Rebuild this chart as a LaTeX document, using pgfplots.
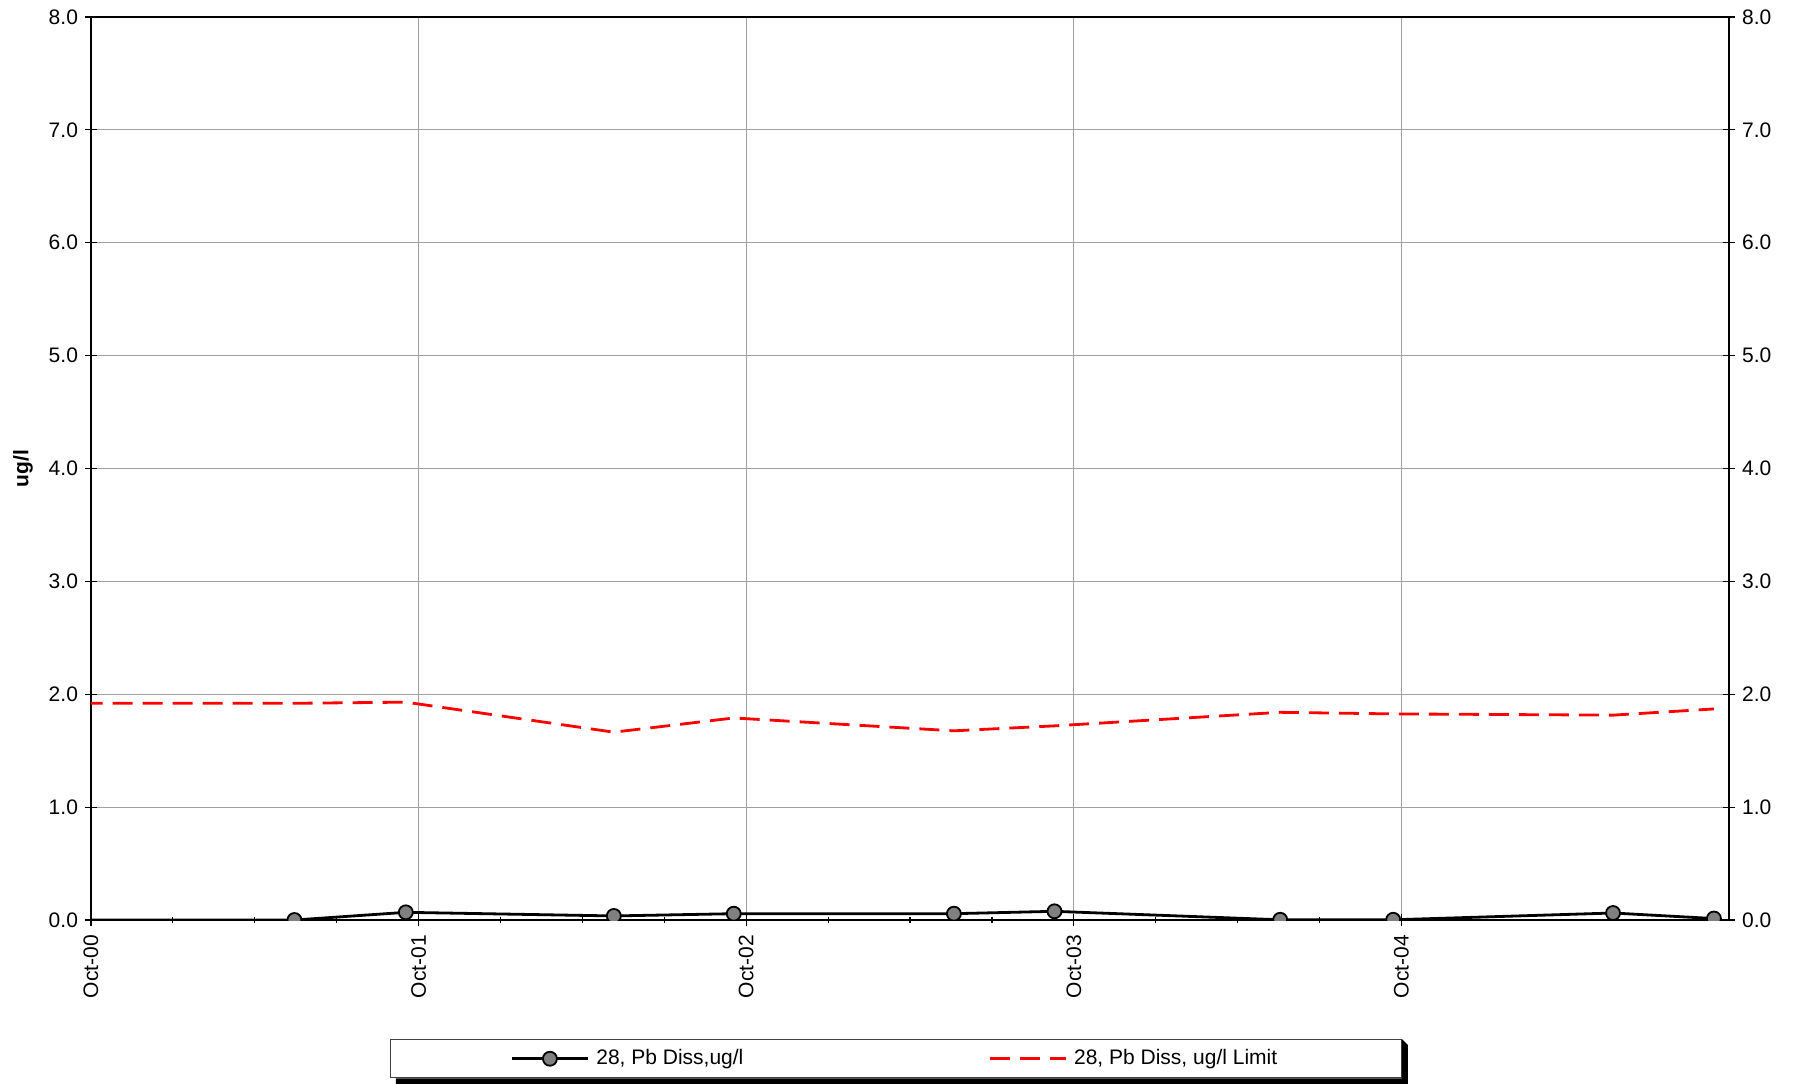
\documentclass[border=0pt]{standalone}
\usepackage{fontspec}
\setmainfont{Liberation Sans}
\usepackage{pgfplots}
\pgfplotsset{compat=1.18}
\definecolor{gridgray}{RGB}{160,160,160}
\definecolor{markgray}{RGB}{128,128,128}

% x = years since Oct-2000
\pgfplotstableread{
x y
-0.3 0
0.621 0
0.961 0.068
1.596 0.036
1.962 0.056
2.634 0.056
2.941 0.077
3.630 0.002
3.975 0.002
4.646 0.062
4.954 0.013
}\pbdata

\pgfplotstableread{
x y
-0.3 1.92
0.621 1.92
0.961 1.93
1.596 1.664
1.962 1.79
2.634 1.676
2.941 1.72
3.630 1.84
3.975 1.826
4.646 1.815
4.954 1.87
}\limitdata

\pgfplotsset{
  markleg/.style={legend image code/.code={\draw[##1,mark repeat=2,mark phase=2] plot coordinates {(0pt,0pt) (19pt,0pt) (38pt,0pt)};}},
  lineleg/.style={legend image code/.code={\draw[##1] (0pt,0pt) -- (38pt,0pt);}},
  common/.style={
    scale only axis,
    width=819pt, height=451.5pt,
    at={(0pt,0pt)}, anchor=south west,
    xmin=0, xmax=5, ymin=0, ymax=8,
    ytick={0,1,...,8},
    xtick={0,1,2,3,4},
    xticklabels={Oct-00,Oct-01,Oct-02,Oct-03,Oct-04},
    minor x tick num=3,
    /pgf/number format/assume math mode=true,
    yticklabel={\pgfmathprintnumber[fixed,fixed zerofill,precision=1]{\tick}},
    tick label style={font=\fontsize{10.5}{12}\selectfont, text=black},
    tick align=center,
    major tick length=6pt,
    minor tick length=3pt,
    tick style={black, line width=0.6pt},
    axis line style={black, line width=0.7pt},
  }
}

\begin{document}
\begin{tikzpicture}
\begin{axis}[
  common,
  name=main,
  ytick pos=left,
  xtick pos=bottom,
  grid=major,
  major grid style={gridgray, line width=0.5pt},
  xticklabel style={rotate=90, anchor=east, xshift=-1pt},
  ylabel={\textbf{ug/l}},
  every axis y label/.style={at={(axis description cs:-0.0415,0.5)}, rotate=90, anchor=center, font=\fontsize{10.5}{12}\selectfont},
  clip marker paths=true,
  legend columns=2,
  legend style={
    name=leg,
    at={(0.1825,-0.1318)}, anchor=north west,
    draw={rgb,255:red,64;green,64;blue,64}, line width=0.6pt,
    fill=white,
    inner xsep=60pt, inner ysep=3pt,
    font=\fontsize{10.5}{12}\selectfont,
    /tikz/every odd column/.append style={column sep=1.5pt},
    /tikz/every even column/.append style={column sep=0pt},
  },
  legend cell align=left,
]
\addplot[black, line width=1.4pt, mark=*, mark size=3.5pt,
  mark options={fill=markgray, draw=black, line width=0.9pt}, markleg]
  table[x=x,y=y] {\pbdata};
\addlegendentry{\makebox[194pt][l]{28, Pb Diss,ug/l}}
\addplot[red, line width=1.4pt, dash pattern=on 10pt off 5pt, no marks, lineleg]
  table[x=x,y=y] {\limitdata};
\addlegendentry{28, Pb Diss, ug/l Limit}
\end{axis}
\fill[black] ([shift={(3pt,-3pt)}]leg.south west) -- ([shift={(3pt,-3pt)}]leg.south east)
  -- ([shift={(3pt,-3pt)}]leg.north east) -- (leg.north east) -- (leg.south east) -- ([shift={(3pt,0pt)}]leg.south west) -- cycle;
\begin{axis}[
  common,
  axis y line*=right,
  axis x line=none,
  ytick pos=right,
  yticklabel pos=right,
]
\end{axis}
\pgfresetboundingbox
\path[use as bounding box] (-45.5pt,-81.5pt) rectangle (856.5pt,460pt);
\end{tikzpicture}
\end{document}
